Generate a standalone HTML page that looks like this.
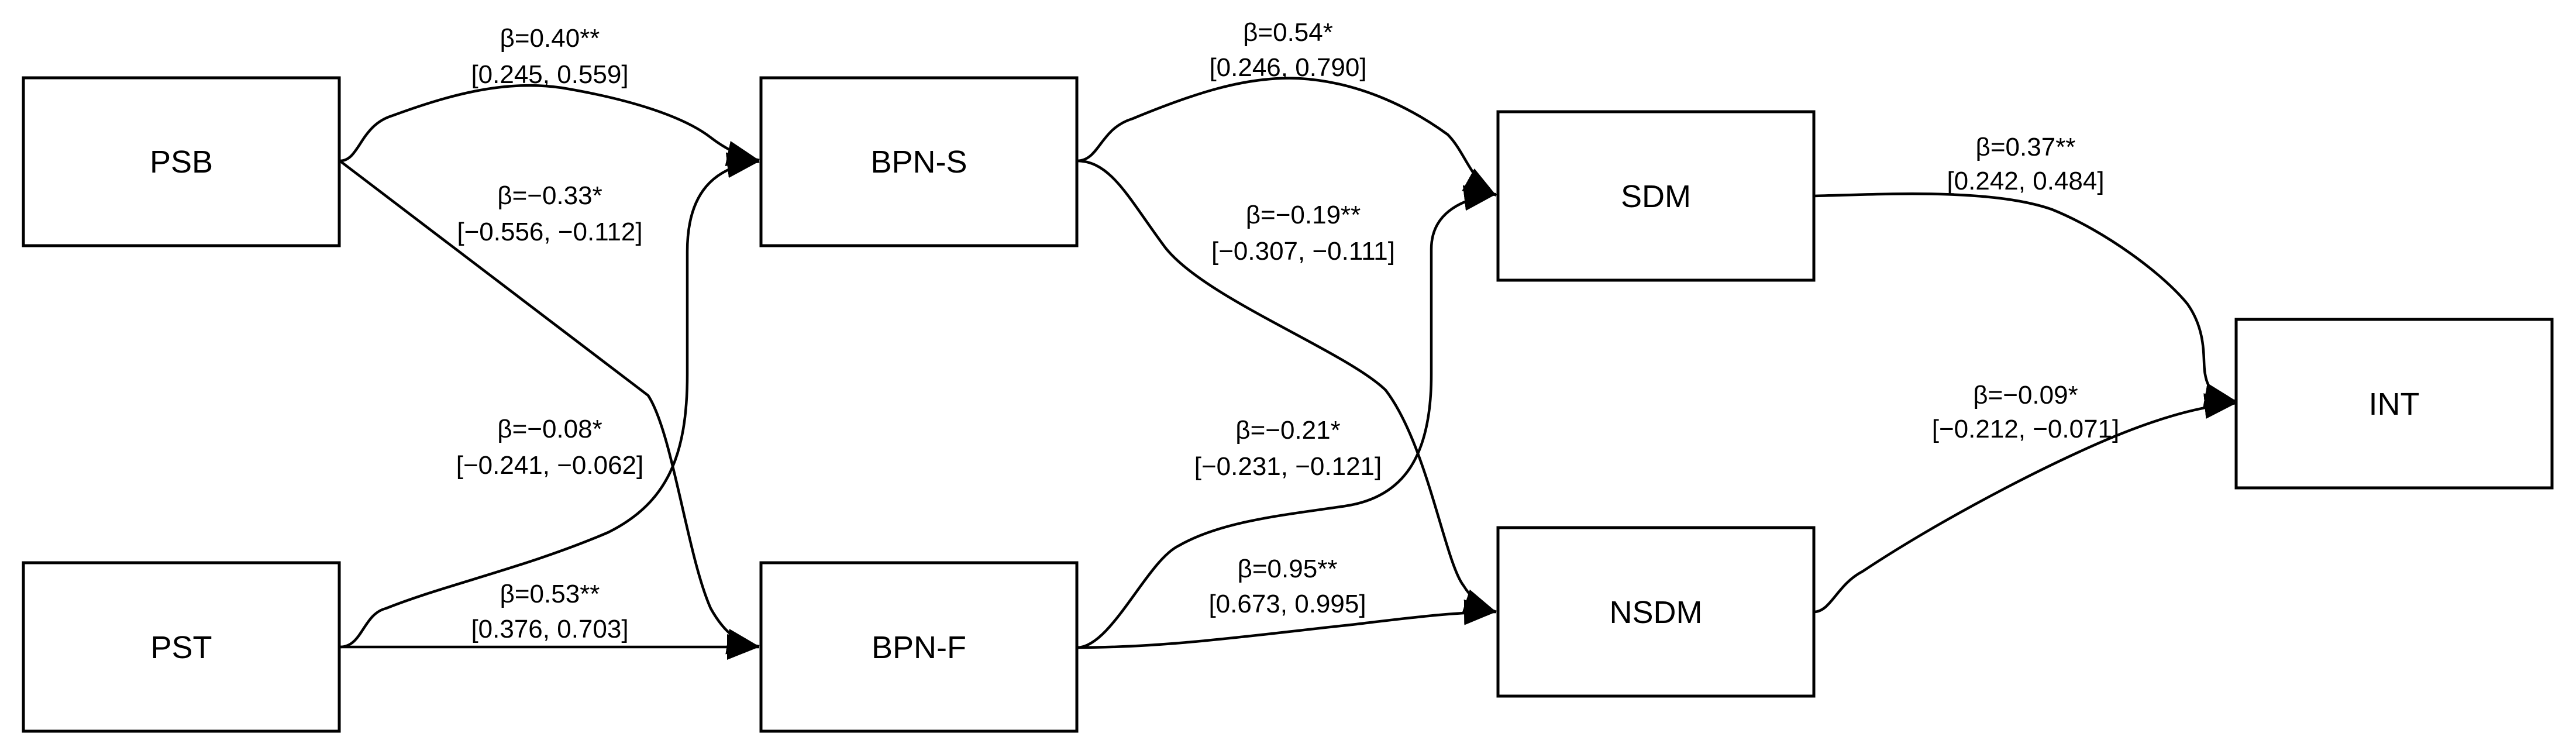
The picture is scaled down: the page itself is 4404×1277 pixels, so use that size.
<!DOCTYPE html>
<html><head><meta charset="utf-8"><style>
html,body{margin:0;padding:0;background:#fff;}
svg{display:block;}
text{font-family:"Liberation Sans",Arial,sans-serif;fill:#000;}
.n{font-size:54px;text-anchor:middle;}
.l{font-size:44px;text-anchor:middle;}
</style></head><body>
<svg width="4404" height="1277" viewBox="0 0 4404 1277" xmlns="http://www.w3.org/2000/svg">
<defs>
<marker id="a" markerUnits="userSpaceOnUse" viewBox="0 0 55 44" markerWidth="55" markerHeight="44" refX="55" refY="22" orient="auto">
<path d="M0,0 L55,22 L0,44 Z" fill="#000"/>
</marker>
</defs>
<g fill="#fff" stroke="#000" stroke-width="5">
<rect x="40" y="133" width="540" height="287"/>
<rect x="40" y="962" width="540" height="288"/>
<rect x="1301" y="133" width="540" height="287"/>
<rect x="1301" y="962" width="540" height="288"/>
<rect x="2561" y="191" width="540" height="288"/>
<rect x="2561" y="902" width="540" height="288"/>
<rect x="3823" y="546" width="540" height="288"/>
</g>
<g fill="none" stroke="#000" stroke-width="4.5" marker-end="url(#a)">
<path d="M581,275 C615,275 615,215 670,198 C760,165 860,135 960,150 C1080,170 1170,200 1215,235 C1245,258 1270,268 1298,274"/>
<path d="M581,275 L1108,676 C1150,740 1175,950 1215,1040 C1240,1085 1265,1100 1298,1105"/>
<path d="M581,1106 C620,1106 620,1050 660,1040 C760,1000 900,970 1040,910 C1140,860 1175,780 1175,640 L1175,430 C1175,330 1220,285 1298,276"/>
<path d="M581,1106 L1298,1106"/>
<path d="M1841,275 C1880,275 1880,220 1936,203 C2040,160 2130,130 2220,134 C2330,140 2420,190 2475,230 C2505,260 2515,310 2558,334"/>
<path d="M1841,275 C1900,275 1930,340 1992,423 C2060,510 2300,600 2369,667 C2440,760 2470,960 2502,1001 C2520,1030 2540,1040 2558,1046"/>
<path d="M1841,1107 C1900,1107 1960,960 2015,933 C2090,890 2200,880 2300,865 C2400,850 2447,780 2447,640 L2447,426 C2447,370 2490,340 2558,332"/>
<path d="M1841,1107 C2000,1107 2150,1085 2310,1068 C2420,1055 2480,1047 2558,1046"/>
<path d="M3101,335 C3200,333 3400,320 3508,358 C3600,395 3700,470 3740,520 C3775,570 3765,620 3770,640 C3775,670 3790,680 3824,686"/>
<path d="M3101,1046 C3130,1046 3140,1000 3184,977 C3300,900 3450,820 3560,770 C3680,715 3760,695 3824,689"/>
</g>
<text class="n" x="310" y="295">PSB</text>
<text class="n" x="310" y="1125">PST</text>
<text class="n" x="1571" y="295">BPN-S</text>
<text class="n" x="1571" y="1125">BPN-F</text>
<text class="n" x="2831" y="354">SDM</text>
<text class="n" x="2831" y="1065">NSDM</text>
<text class="n" x="4093" y="709">INT</text>

<text class="l" x="940" y="80">β=0.40**</text>
<text class="l" x="940" y="142">[0.245, 0.559]</text>
<text class="l" x="940" y="349">β=−0.33*</text>
<text class="l" x="940" y="411">[−0.556, −0.112]</text>
<text class="l" x="940" y="748">β=−0.08*</text>
<text class="l" x="940" y="810">[−0.241, −0.062]</text>
<text class="l" x="940" y="1030">β=0.53**</text>
<text class="l" x="940" y="1090">[0.376, 0.703]</text>

<text class="l" x="2202" y="70">β=0.54*</text>
<text class="l" x="2202" y="130">[0.246, 0.790]</text>
<text class="l" x="2228" y="382">β=−0.19**</text>
<text class="l" x="2228" y="444">[−0.307, −0.111]</text>
<text class="l" x="2202" y="750">β=−0.21*</text>
<text class="l" x="2202" y="812">[−0.231, −0.121]</text>
<text class="l" x="2201" y="987">β=0.95**</text>
<text class="l" x="2201" y="1047">[0.673, 0.995]</text>

<text class="l" x="3463" y="266">β=0.37**</text>
<text class="l" x="3463" y="324">[0.242, 0.484]</text>
<text class="l" x="3463" y="690">β=−0.09*</text>
<text class="l" x="3463" y="748">[−0.212, −0.071]</text>
</svg>
</body></html>
